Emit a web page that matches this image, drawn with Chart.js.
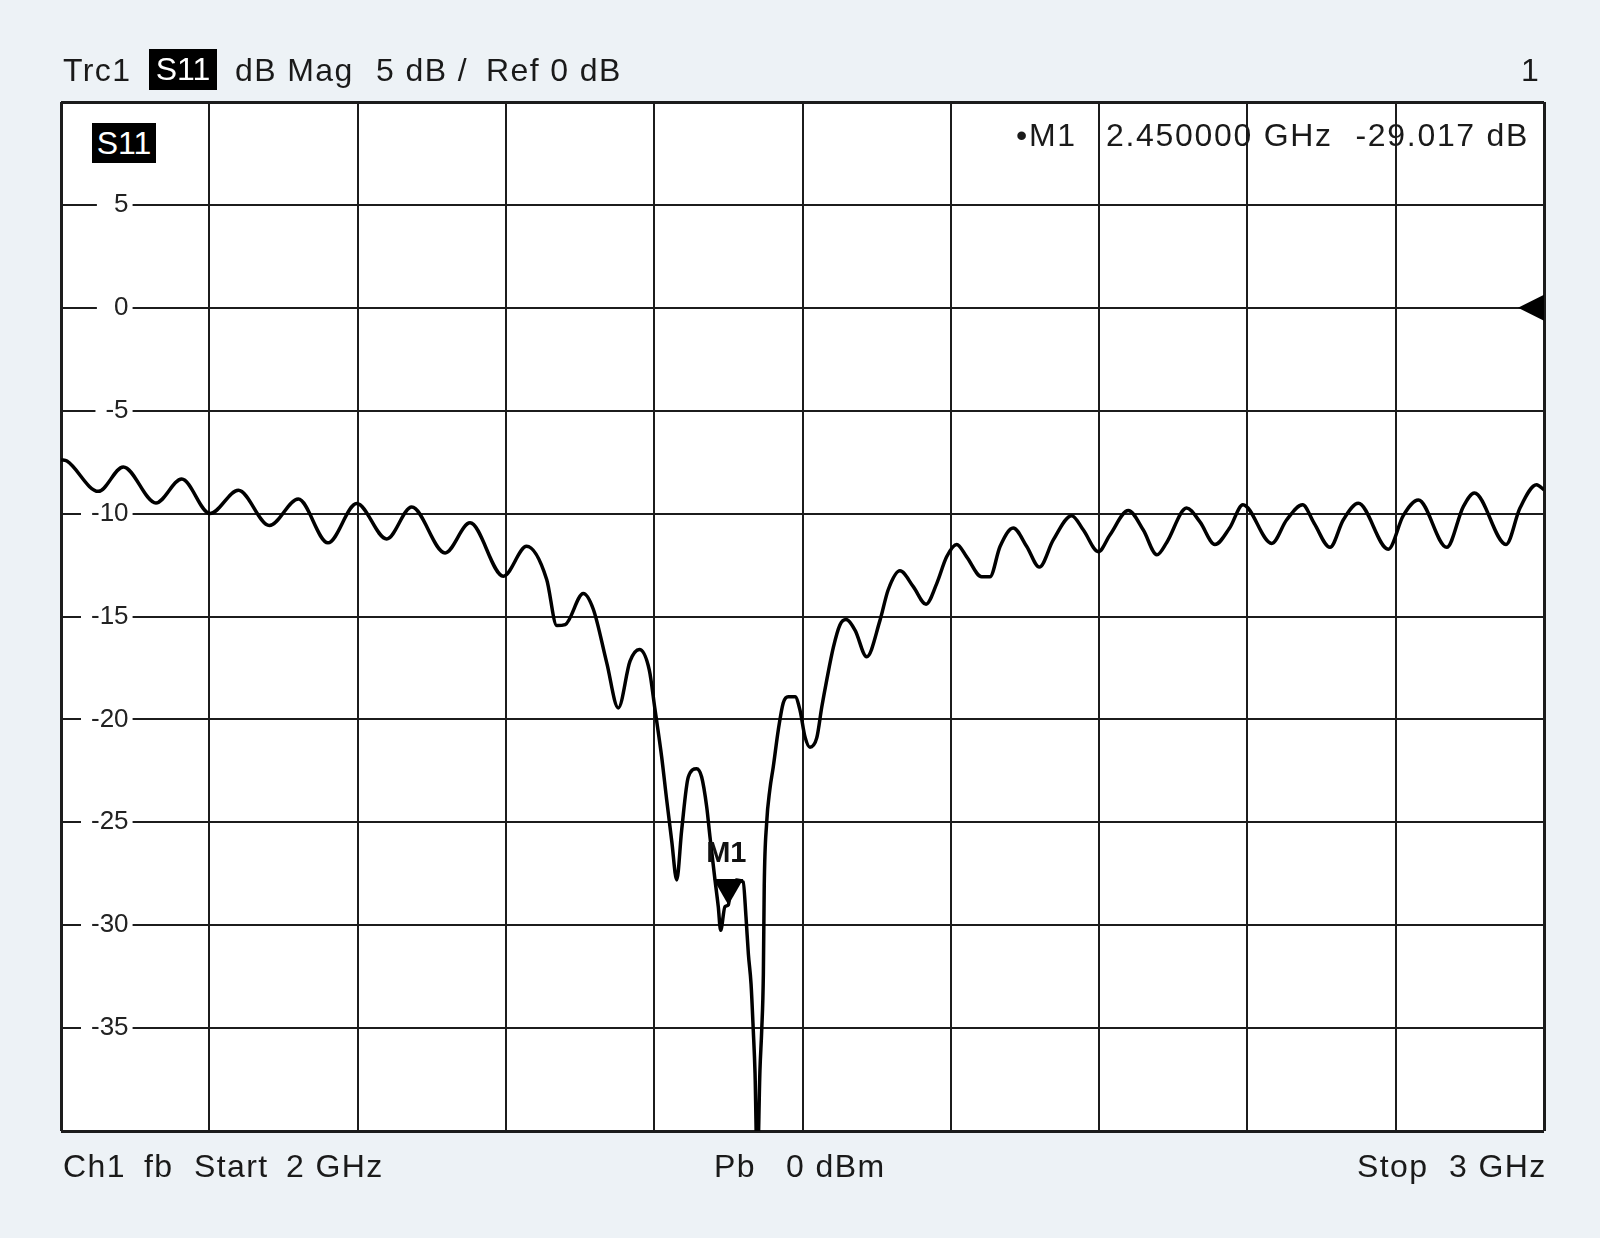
<!DOCTYPE html>
<html>
<head>
<meta charset="utf-8">
<title>S11 dB Mag</title>
<script src="https://cdn.jsdelivr.net/npm/chart.js@4.4.1/dist/chart.umd.min.js"></script>
<style>
  body { margin: 0; background: #edf2f6; font-family: "Liberation Sans", Arial, sans-serif; color: #1a1a1a; }
  #wrap { position: relative; width: 1600px; height: 1238px; overflow: hidden; }
  #wrap canvas { position: absolute; left: 0; top: 0; }
  .txt { position: absolute; font-size: 32px; line-height: 40px; white-space: pre; letter-spacing: 1.4px; }
  .inv { background: #000; color: #fff; text-align: center; letter-spacing: 0; }
</style>
</head>
<body>
<div id="wrap">
  <canvas id="vnaChart" width="1600" height="1238"></canvas>

  <!-- header line -->
  <div class="txt" style="left:63px;top:50px">Trc1</div>
  <div class="txt inv" style="left:149px;top:49px;width:68px;height:41px;line-height:41px">S11</div>
  <div class="txt" style="left:235px;top:50px">dB Mag</div>
  <div class="txt" style="left:376px;top:50px">5 dB /</div>
  <div class="txt" style="left:486px;top:50px">Ref 0 dB</div>
  <div class="txt" style="left:1521px;top:50px">1</div>

  <!-- trace badge inside the grid -->
  <div class="txt inv" style="left:92px;top:123px;width:64px;height:40px;line-height:40px">S11</div>

  <!-- footer line -->
  <div class="txt" style="left:63px;top:1146px">Ch1</div>
  <div class="txt" style="left:144px;top:1146px">fb</div>
  <div class="txt" style="left:194px;top:1146px">Start</div>
  <div class="txt" style="left:286px;top:1146px">2 GHz</div>
  <div class="txt" style="left:714px;top:1146px">Pb</div>
  <div class="txt" style="left:786px;top:1146px">0 dBm</div>
  <div class="txt" style="left:1357px;top:1146px">Stop</div>
  <div class="txt" style="left:1449px;top:1146px">3 GHz</div>
</div>

<script>
// sweep: 2 GHz .. 3 GHz, 5 dB/div, ref 0 dB
const xStart = 2, xStop = 3, xStep = 0.1;
const yMin = -40, yMax = 10, yStep = 5;
const refLevel = 0;

// S11 trace (GHz, dB)
const freqGHz = [
  2.000, 2.004, 2.0252, 2.042, 2.064, 2.0814, 2.1005, 2.1196, 2.1405, 2.160,
  2.180, 2.1994, 2.2196, 2.2365, 2.259, 2.2758, 2.2983, 2.314, 2.3275, 2.3343,
  2.340, 2.3522, 2.359, 2.368, 2.3758, 2.3837, 2.390, 2.3967, 2.4005, 2.405,
  2.4084, 2.4118, 2.4152, 2.4185, 2.423, 2.4286, 2.432, 2.4354, 2.4376, 2.441,
  2.4432, 2.4448, 2.4477, 2.450, 2.4511, 2.4556, 2.460, 2.4619, 2.4635, 2.4653,
  2.4668, 2.468, 2.4695, 2.4713, 2.4725, 2.4736, 2.4742, 2.4758, 2.478, 2.4803,
  2.4837, 2.487, 2.4904, 2.495, 2.4983, 2.5017, 2.505, 2.5096, 2.513, 2.5163,
  2.5208, 2.5253, 2.5293, 2.5354, 2.5433, 2.5522, 2.5578, 2.5657, 2.5747, 2.5833,
  2.5905, 2.5972, 2.604, 2.6107, 2.6208, 2.6264, 2.6332, 2.6421, 2.6512, 2.6597,
  2.6691, 2.6815, 2.6894, 2.6995, 2.7073, 2.7197, 2.7298, 2.739, 2.7456, 2.759,
  2.768, 2.7781, 2.788, 2.797, 2.8164, 2.8265, 2.8372, 2.845, 2.8557, 2.8647,
  2.8748, 2.895, 2.9051, 2.9153, 2.9344, 2.9456, 2.9531, 2.9744, 2.9838, 2.995,
  3.000
];
const s11dB = [
  -7.38, -7.45, -8.92, -7.73, -9.48, -8.32, -10.0, -8.87, -10.58, -9.29,
  -11.42, -9.51, -11.23, -9.68, -11.91, -10.45, -13.04, -11.59, -13.2, -15.44,
  -15.39, -13.88, -14.66, -17.25, -19.44, -17.17, -16.6, -17.6, -19.5, -21.8,
  -23.9, -25.9, -27.8, -25.4, -22.8, -22.4, -22.8, -24.25, -25.7, -27.8,
  -29.1, -30.25, -29.1, -29.017, -28.5, -27.8, -27.9, -29.6, -31.4, -32.85,
  -35.1, -37.2, -42.0, -37.06, -35.1, -32.4, -28.1, -25.06, -23.4, -22.3,
  -20.5, -19.2, -18.9, -18.9, -19.55, -20.85, -21.35, -20.9, -19.4, -18.1,
  -16.5, -15.4, -15.15, -15.66, -16.96, -15.2, -13.7, -12.78, -13.55, -14.4,
  -13.4, -12.1, -11.5, -12.1, -13.07, -13.07, -11.6, -10.7, -11.6, -12.6,
  -11.28, -10.1, -10.8, -11.85, -11.04, -9.85, -10.8, -12.0, -11.4, -9.73,
  -10.4, -11.5, -10.7, -9.57, -11.45, -10.3, -9.57, -10.47, -11.64, -10.3,
  -9.5, -11.73, -10.1, -9.34, -11.64, -9.66, -9.0, -11.5, -9.73, -8.6,
  -8.85
];

// marker M1
const markerNames = ['M1'];
const markerFreq = [2.45];
const markerDb = [-29.017];

const fontFamily = '"Liberation Sans", Arial, sans-serif';
const points = freqGHz.map((f, i) => ({ x: f, y: s11dB[i] }));

function isEdge(v, a, b) {
    return Math.abs(v - a) < 1e-6 || Math.abs(v - b) < 1e-6;
}

// white screen area behind the grid
const screenPlugin = {
    id: 'screen',
    beforeDraw(chart) {
        const { ctx, chartArea: a } = chart;
        ctx.save();
        ctx.fillStyle = '#ffffff';
        ctx.fillRect(a.left, a.top, a.right - a.left, a.bottom - a.top);
        ctx.restore();
    }
};

// marker triangle, marker readout and reference level arrow
const markerPlugin = {
    id: 'markers',
    afterDatasetsDraw(chart) {
        const { ctx, chartArea: a, scales } = chart;
        ctx.save();
        ctx.fillStyle = '#000';

        markerFreq.forEach((f, i) => {
            const px = scales.x.getPixelForValue(f);
            const py = scales.y.getPixelForValue(markerDb[i]);
            ctx.beginPath();
            ctx.moveTo(px, py);
            ctx.lineTo(px - 15, py - 26);
            ctx.lineTo(px + 15, py - 26);
            ctx.closePath();
            ctx.fill();

            ctx.font = 'bold 29px ' + fontFamily;
            ctx.textAlign = 'center';
            ctx.textBaseline = 'bottom';
            ctx.fillStyle = '#111';
            ctx.fillText(markerNames[i], px - 2, py - 36);

            // readout in the top right corner
            const ry = a.top + 35;
            ctx.font = '32px ' + fontFamily;
            if ('letterSpacing' in ctx) ctx.letterSpacing = '1.7px';
            ctx.textBaseline = 'middle';
            ctx.textAlign = 'left';
            ctx.fillStyle = '#1a1a1a';
            ctx.fillText('\u2022' + markerNames[i], a.right - 528, ry);
            ctx.fillText(f.toFixed(6) + ' GHz', a.right - 438, ry);
            ctx.textAlign = 'right';
            ctx.fillText(markerDb[i].toFixed(3) + ' dB', a.right - 15, ry);
            if ('letterSpacing' in ctx) ctx.letterSpacing = '0px';
        });

        // reference level arrow on the right edge
        const ry0 = scales.y.getPixelForValue(refLevel);
        ctx.fillStyle = '#000';
        ctx.beginPath();
        ctx.moveTo(a.right, ry0 - 13);
        ctx.lineTo(a.right, ry0 + 13);
        ctx.lineTo(a.right - 26, ry0);
        ctx.closePath();
        ctx.fill();
        ctx.restore();
    }
};

document.addEventListener('DOMContentLoaded', function() {
    const ctx = document.getElementById('vnaChart').getContext('2d');
    new Chart(ctx, {
        type: 'line',
        data: {
            datasets: [{
                label: 'S11',
                data: points,
                borderColor: '#000',
                borderWidth: 3.5,
                pointRadius: 0,
                cubicInterpolationMode: 'monotone',
                clip: 0
            }]
        },
        options: {
            responsive: false,
            animation: false,
            layout: {
                padding: { left: 1, right: 56, top: 102, bottom: 107 }
            },
            plugins: {
                legend: { display: false },
                tooltip: { enabled: false }
            },
            scales: {
                x: {
                    type: 'linear',
                    min: xStart,
                    max: xStop,
                    ticks: { stepSize: xStep, display: false },
                    grid: {
                        color: '#1c1c1c',
                        lineWidth: c => (c.tick && isEdge(c.tick.value, xStart, xStop)) ? 3 : 2,
                        drawTicks: false
                    },
                    border: { display: false }
                },
                y: {
                    type: 'linear',
                    min: yMin,
                    max: yMax,
                    ticks: {
                        stepSize: yStep,
                        mirror: true,
                        padding: 30,
                        crossAlign: 'far',
                        color: '#222',
                        font: { size: 26, family: fontFamily },
                        callback: v => (v <= yMin || v >= yMax) ? '' : (v >= 0 ? ' ' + v : String(v)),
                        showLabelBackdrop: c => c.tick && c.tick.value > yMin && c.tick.value < yMax,
                        backdropColor: '#ffffff',
                        backdropPadding: { left: 10, right: 4, top: 0, bottom: 0 }
                    },
                    grid: {
                        color: '#1c1c1c',
                        lineWidth: c => (c.tick && isEdge(c.tick.value, yMin, yMax)) ? 3 : 2,
                        drawTicks: false
                    },
                    border: { display: false }
                }
            }
        },
        plugins: [screenPlugin, markerPlugin]
    });
});
</script>
</body>
</html>
